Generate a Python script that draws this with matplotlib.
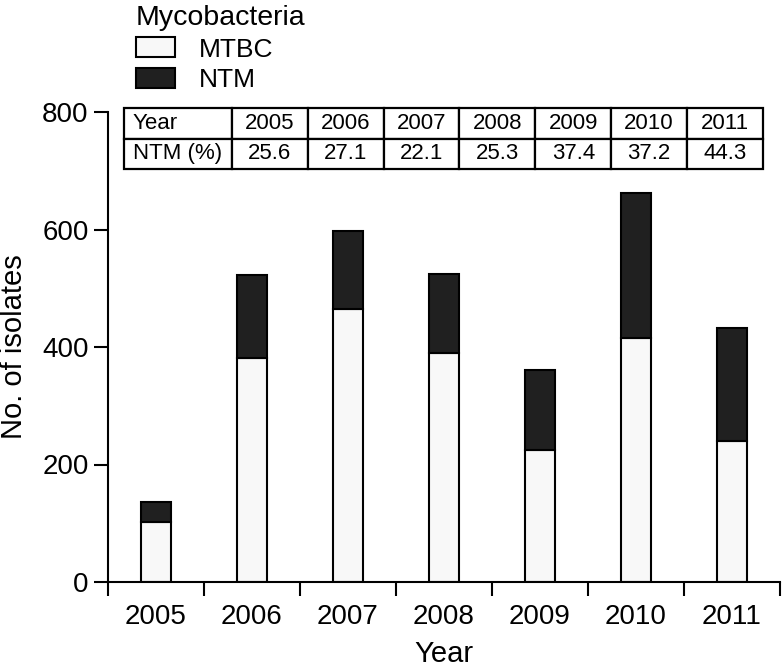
import matplotlib
matplotlib.use('Agg')
import matplotlib.pyplot as plt
from matplotlib.patches import Patch
import numpy as np

plt.rcParams['font.family'] = ['Liberation Sans', 'DejaVu Sans']

years = ['2005', '2006', '2007', '2008', '2009', '2010', '2011']
mtbc = [102, 381, 465, 390, 225, 416, 240]
ntm = [35, 142, 132, 134, 136, 246, 192]
ntm_pct = ['25.6', '27.1', '22.1', '25.3', '37.4', '37.2', '44.3']

fig = plt.figure(figsize=(7.82, 6.71), dpi=100)
ax = fig.add_axes([108 / 782, 1 - 582 / 671, 672 / 782, 470 / 671])

x = np.arange(len(years))
ax.bar(x, mtbc, width=0.32, color='#f8f8f8', edgecolor='black', linewidth=1.5)
ax.bar(x, ntm, width=0.32, bottom=mtbc, color='#202020', edgecolor='black', linewidth=1.5)

ax.set_xlim(-0.5, 6.5)
ax.set_ylim(0, 800)
ax.set_yticks([0, 200, 400, 600, 800])
ax.set_xticks(np.arange(-0.5, 7, 1))
ax.set_xticklabels([])
ax.set_xticks(x, minor=True)
ax.set_xticklabels(years, minor=True)
ax.tick_params(axis='x', which='major', length=10, width=1.5, direction='out')
ax.tick_params(axis='x', which='minor', length=0, pad=16, labelsize=20)
ax.tick_params(axis='y', length=10, width=1.5, labelsize=20, pad=4)
for s in ['top', 'right']:
    ax.spines[s].set_visible(False)
for s in ['left', 'bottom']:
    ax.spines[s].set_linewidth(1.5)

ax.set_xlabel('Year', fontsize=21, labelpad=7)
ax.set_ylabel('No. of isolates', fontsize=21, labelpad=10)

# table on top
cells = [['Year'] + years, ['NTM (%)'] + ntm_pct]
tb = ax.table(cellText=cells, cellLoc='center',
              colWidths=[108] + [76] * 7,
              bbox=[16 / 672, (582 - 169) / 470, 639 / 672, 61 / 470])
tb.auto_set_font_size(False)
tb.set_fontsize(16)
for (r, c), cell in tb.get_celld().items():
    cell.set_linewidth(1.6)
    if c == 0:
        cell.set_text_props(ha='left')
        cell.PAD = 0.08

handles = [Patch(facecolor='#f8f8f8', edgecolor='black', linewidth=1.5, label='MTBC'),
           Patch(facecolor='#202020', edgecolor='black', linewidth=1.5, label='NTM')]
leg = fig.legend(handles=handles, title='Mycobacteria', loc='upper left',
                 bbox_to_anchor=(133 / 782, 0.997), frameon=False, fontsize=19,
                 title_fontsize=20.5, alignment='left', borderpad=0.1,
                 handlelength=1.5, handleheight=0.8, handletextpad=0.9,
                 labelspacing=0.25, borderaxespad=0)

fig.savefig('out.png', dpi=100)
